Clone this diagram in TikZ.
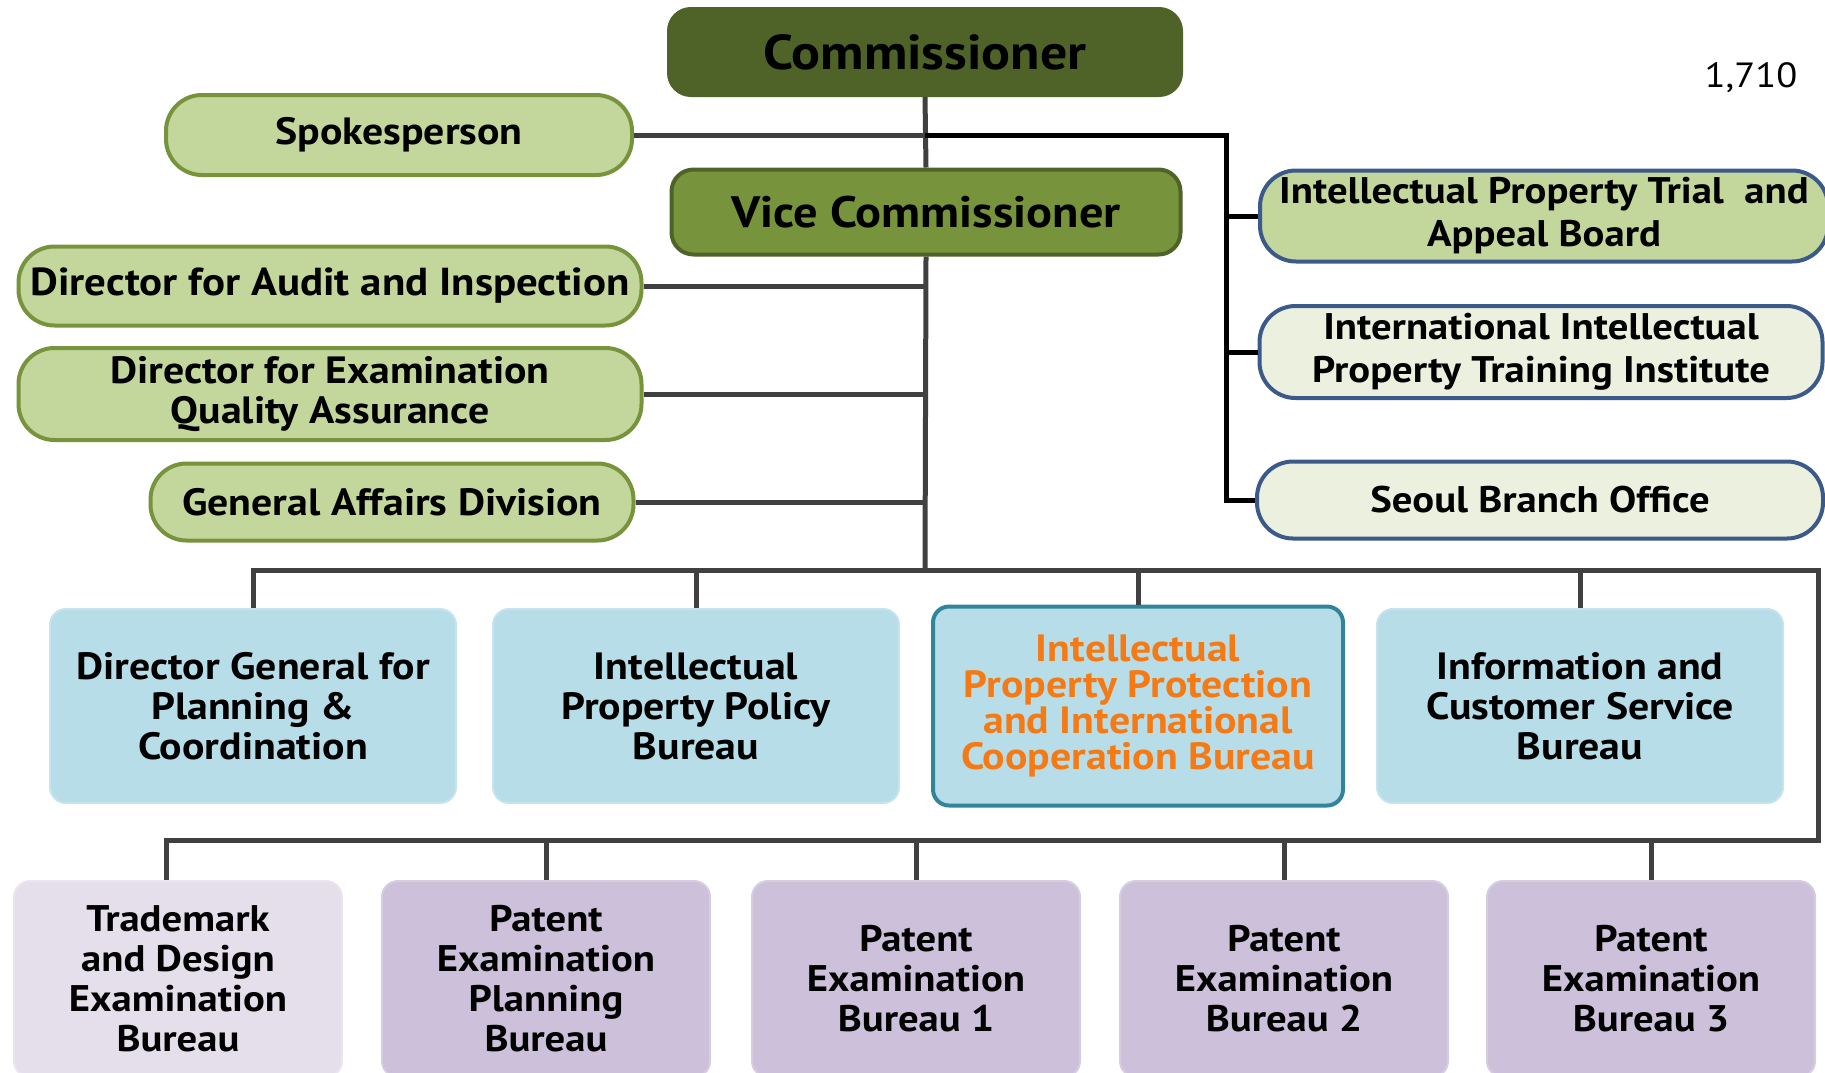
\documentclass[tikz,border=0pt]{standalone}
\usepackage{fontspec}
\setmainfont{PT Sans}[FakeStretch=1.1]
\definecolor{olivedark}{HTML}{4F6228}
\definecolor{olivemid}{HTML}{77933C}
\definecolor{olivelight}{HTML}{C3D69B}
\definecolor{olivepale}{HTML}{EBF1DE}
\definecolor{bluebord}{HTML}{3B5A8A}
\definecolor{aqua}{HTML}{B7DDE8}
\definecolor{aquabord}{HTML}{31849B}
\definecolor{lav}{HTML}{CCC0DA}
\definecolor{lavpale}{HTML}{E5DFEC}
\definecolor{linegray}{HTML}{404040}
\definecolor{orangetxt}{HTML}{F57A14}
\tikzset{
  base/.style={align=center, inner sep=0pt, text=black, font=\fontsize{38}{40}\selectfont\bfseries},
  pill/.style={base, rounded corners=36pt, line width=4pt},
  greenpill/.style={pill, fill=olivelight, draw=olivemid},
  bluepill/.style={pill, draw=bluebord, font=\fontsize{37}{43}\selectfont\bfseries},
  topbox/.style={base, rounded corners=22pt, line width=4pt},
  bureau/.style={base, rounded corners=16pt, fill=aqua, draw=aqua!80!white, line width=2pt, minimum width=406, minimum height=194},
  exam/.style={base, rounded corners=16pt, fill=lav, draw=lav!80!white, line width=2pt, minimum width=328, minimum height=200, font=\fontsize{37}{40}\selectfont\bfseries},
  conn/.style={draw=linegray, line width=5pt},
  connblack/.style={draw=black, line width=5pt}
}
\begin{document}
\begin{tikzpicture}[x=1pt,y=-1pt]
\useasboundingbox (0,0) rectangle (1825,1072);
\clip (0,0) rectangle (1825,1072);

% top
\node[topbox, fill=olivedark, draw=olivedark, minimum width=512, minimum height=86,
  font=\fontsize{49}{52}\selectfont\bfseries] (comm) at (925,52) {Commissioner};
\node[topbox, fill=olivemid, draw=olivedark, minimum width=509, minimum height=85,
  font=\fontsize{44}{46}\selectfont\bfseries] (vice) at (926,212) {Vice Commissioner};

% left staff
\node[greenpill, minimum width=466, minimum height=80] (spk) at (399,135) {Spokesperson};
\node[greenpill, minimum width=623, minimum height=79, font=\fontsize{39}{40}\selectfont\bfseries] (aud) at (330,286) {Director for Audit and Inspection};
\node[greenpill, minimum width=623, minimum height=92] (eqa) at (330,394) {Director for Examination\\Quality Assurance};
\node[greenpill, minimum width=483, minimum height=77] (gad) at (392,502) {General Affairs Division};

% right
\node[bluepill, fill=olivelight, minimum width=568, minimum height=91] (trial) at (1544,216) {Intellectual Property Trial \ and\\Appeal Board};
\node[bluepill, fill=olivepale, minimum width=563, minimum height=92] (iipti) at (1541,352) {International Intellectual\\Property Training Institute};
\node[bluepill, fill=olivepale, minimum width=566, minimum height=77] (seoul) at (1540,500) {Seoul Branch Office};

\node[base, font=\fontsize{35}{40}\selectfont] (num) at (1751,78) {1,710};

% middle bureaus
\node[bureau] (b1) at (253,706) {Director General for\\Planning \&\\Coordination};
\node[bureau] (b2) at (696,706) {Intellectual\\Property Policy\\Bureau};
\node[bureau, draw=aquabord, line width=4pt, minimum width=410, minimum height=199, text=orangetxt,
  font=\fontsize{38}{36}\selectfont\bfseries] (b3) at (1138,706) {Intellectual\\Property Protection\\and International\\Cooperation Bureau};
\node[bureau] (b4) at (1580,706) {Information and\\Customer Service\\Bureau};

% bottom bureaus
\node[exam, fill=lavpale, draw=lavpale!80!white, minimum height=196] (c1) at (178,979) {Trademark\\and Design\\Examination\\Bureau};
\node[exam, minimum height=196] (c2) at (546,979) {Patent\\Examination\\Planning\\Bureau};
\node[exam, minimum height=196] (c3) at (916,979) {Patent\\Examination\\Bureau 1};
\node[exam, minimum height=196] (c4) at (1284,979) {Patent\\Examination\\Bureau 2};
\node[exam, minimum height=196] (c5) at (1651,979) {Patent\\Examination\\Bureau 3};

% coordinates
\coordinate (trunkA) at (925,135);
\coordinate (busTop) at (925,570);
\coordinate (rightJ) at (1226,135);
\coordinate (busR) at (1818,570);
\coordinate (busR2) at (1818,840);
\coordinate (busL2) at (166,840);

% connectors
\draw[conn] (comm.south) -- (vice.north);
\draw[conn] (vice.south) -- (busTop);
\draw[conn] (spk.east) -- (trunkA);
\draw[connblack] (trunkA) -- (rightJ) -- (rightJ |- seoul.west) -- (seoul.west);
\draw[connblack] (rightJ |- trial.west) -- (trial.west);
\draw[connblack] (rightJ |- iipti.west) -- (iipti.west);
\draw[conn] (aud.east) -- (aud.east -| busTop);
\draw[conn] (eqa.east) -- (eqa.east -| busTop);
\draw[conn] (gad.east) -- (gad.east -| busTop);

\draw[conn] (b1.north) -- (b1.north |- busTop) -- (busR) -- (busR2) -- (busL2) -- (busL2 |- c1.north);
\draw[conn] (b2.north) -- (b2.north |- busTop);
\draw[conn] (b3.north) -- (b3.north |- busTop);
\draw[conn] (b4.north) -- (b4.north |- busTop);
\draw[conn] (c2.north) -- (c2.north |- busL2);
\draw[conn] (c3.north) -- (c3.north |- busL2);
\draw[conn] (c4.north) -- (c4.north |- busL2);
\draw[conn] (c5.north) -- (c5.north |- busL2);
\end{tikzpicture}
\end{document}
